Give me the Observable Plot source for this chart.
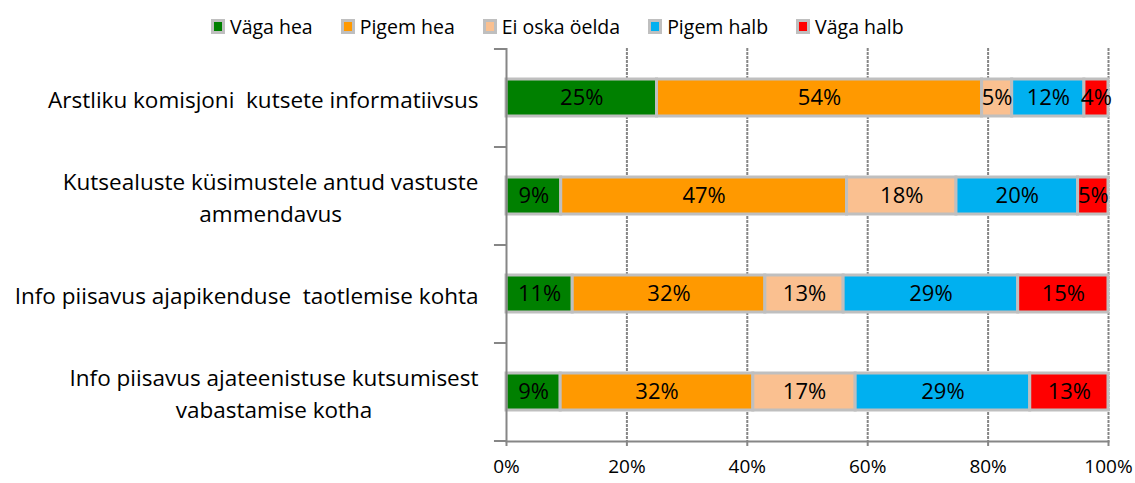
<!DOCTYPE html>
<html>
<head>
<meta charset="utf-8">
<script src="https://cdn.jsdelivr.net/npm/d3@7"></script>
<script src="https://cdn.jsdelivr.net/npm/@observablehq/plot@0.6"></script>
<style>
  body { margin: 0; background: #fff; font-family: "Open Sans", sans-serif; }
  #legend { height: 40px; display: flex; align-items: center; padding-left: 211px; padding-top: 13px; box-sizing: border-box; font-size: 19.5px; color: #000; }
  .item { display: flex; align-items: center; margin-right: 28px; }
  .sw { width: 8px; height: 9px; border: 3px solid #bfbfbf; margin-right: 5px; }
</style>
</head>
<body>
<div id="legend"></div>
<div id="chart"></div>
<script>
const categories = [
  "Arstliku komisjoni  kutsete informatiivsus",
  "Kutsealuste küsimustele antud vastuste\nammendavus",
  "Info piisavus ajapikenduse  taotlemise kohta",
  "Info piisavus ajateenistuse kutsumisest\nvabastamise kotha"
];
const responses = ["Väga hea", "Pigem hea", "Ei oska öelda", "Pigem halb", "Väga halb"];
const colors = ["#008000", "#ff9900", "#fac090", "#00b0f0", "#ff0000"];
const vagaHea   = [25, 9, 11, 9];
const pigemHea  = [54, 47, 32, 32];
const eiOska    = [5, 18, 13, 17];
const pigemHalb = [12, 20, 29, 29];
const vagaHalb  = [4, 5, 15, 13];
const xTicks = [0, 0.2, 0.4, 0.6, 0.8, 1];

const series = [vagaHea, pigemHea, eiOska, pigemHalb, vagaHalb];
const data = [];
categories.forEach((c, i) => {
  responses.forEach((r, j) => data.push({cat: c, resp: r, value: series[j][i]}));
});

// legend
const leg = document.getElementById("legend");
responses.forEach((r, j) => {
  const it = document.createElement("div");
  it.className = "item";
  it.innerHTML = `<span class="sw" style="background:${colors[j]}"></span><span>${r}</span>`;
  leg.appendChild(it);
});

const gray = "#868686";
const plot = Plot.plot({
  width: 1135,
  height: 443,
  marginLeft: 506,
  marginRight: 27,
  marginTop: 8,
  marginBottom: 42,
  style: {fontFamily: "'Open Sans', sans-serif", fontSize: "16px", color: "#000", background: "#fff"},
  x: {domain: [0, 1], ticks: xTicks, tickFormat: d3.format(".0%"), label: null},
  y: {domain: categories, paddingInner: 0.62, paddingOuter: 0.31, axis: null},
  color: {domain: responses, range: colors},
  marks: [
    Plot.ruleX(xTicks.slice(1), {stroke: gray, strokeWidth: 2, strokeDasharray: "3,1"}),
    Plot.barX(data, Plot.stackX({x: "value", y: "cat", z: "resp", fill: "resp", offset: "normalize", order: responses,
      stroke: "#bfbfbf", strokeWidth: 3})),
    Plot.text(data, Plot.stackX({x: "value", y: "cat", z: "resp", offset: "normalize", order: responses,
      text: d => d.value + "%", fontSize: 22, fill: "#000"})),
    Plot.ruleX([0], {stroke: gray, strokeWidth: 2}),
    Plot.frame({anchor: "bottom", stroke: gray, strokeWidth: 2}),
    Plot.ruleY(categories, {y: d => d, x1: -0.02, x2: 0, dy: 49, stroke: gray, strokeWidth: 2}),
    Plot.ruleY([categories[0]], {y: d => d, x1: -0.02, x2: 0, dy: -49, stroke: gray, strokeWidth: 2}),
    Plot.axisX({ticks: xTicks, tickFormat: d3.format(".0%"), tickSize: 5, stroke: gray, strokeWidth: 2, tickPadding: 13, fontSize: 19, label: null}),
    Plot.text(categories, {y: d => d, x: 0, dx: -28, text: d => d, textAnchor: "end", lineHeight: 1.42, fontSize: 22.5, fill: "#000", className: "ylab"})
  ]
});
document.getElementById("chart").appendChild(plot);

// center the lines of multi-line category labels within their right-aligned block
plot.querySelectorAll("g.ylab text").forEach(t => {
  const tsp = t.querySelectorAll("tspan");
  if (tsp.length > 1) {
    const bb = t.getBBox();
    t.setAttribute("text-anchor", "middle");
    tsp.forEach(s => s.setAttribute("x", bb.x + bb.width / 2));
  }
});
</script>
</body>
</html>
